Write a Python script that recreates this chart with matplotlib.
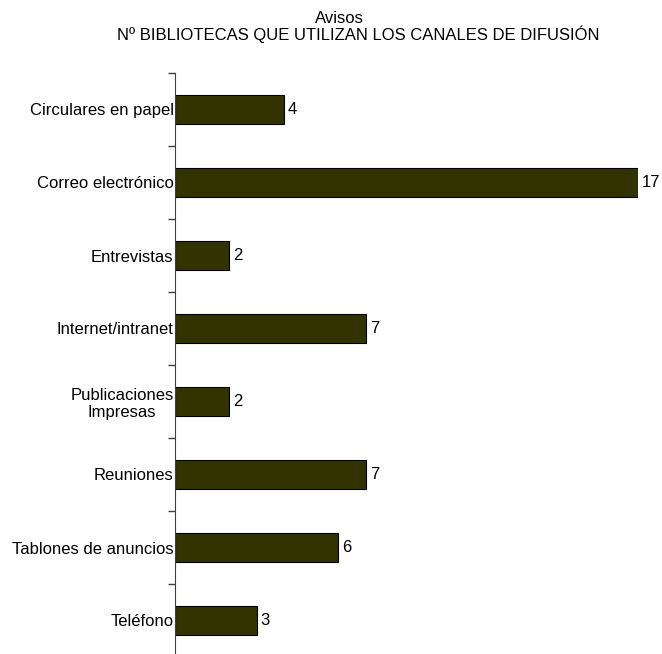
import numpy as np
import matplotlib.pyplot as plt

plt.rcParams['font.family'] = ['Liberation Sans', 'DejaVu Sans']

categorias = ['Circulares en papel', 'Correo electrónico', 'Entrevistas',
              'Internet/intranet', 'Publicaciones\nImpresas', 'Reuniones',
              'Tablones de anuncios', 'Teléfono']
valores = [4, 17, 2, 7, 2, 7, 6, 3]

fs = 12
fig = plt.figure(figsize=(6.62, 6.54), dpi=100)
ax = fig.add_axes([175/662, -3/654, (638-175)/662, 584/654])

y = np.arange(len(categorias))
ax.barh(y, valores, height=0.4, color='#333300', edgecolor='black', linewidth=0.8)
for yi, v in zip(y, valores):
    ax.text(v + 0.15, yi, str(v), va='center', ha='left', fontsize=fs)

ax.set_xlim(0, 17)
ax.set_ylim(len(categorias) - 0.5, -0.5)
ax.set_yticks(y)
ax.set_yticklabels(categorias, fontsize=fs, ha='right', multialignment='center')
ax.tick_params(axis='y', which='major', length=0, pad=1)
ax.set_yticks(np.arange(-0.5, len(categorias)), minor=True)
ax.tick_params(axis='y', which='minor', length=5, width=1, color='#404040')
ax.set_xticks([])
for s in ['top', 'right', 'bottom']:
    ax.spines[s].set_visible(False)
ax.spines['left'].set_color('#404040')

fig.text(339/662, 1 - 23/654, 'Avisos', ha='center', va='baseline', fontsize=fs)
fig.text(358/662, 1 - 40/654, 'Nº BIBLIOTECAS QUE UTILIZAN LOS CANALES DE DIFUSIÓN',
         ha='center', va='baseline', fontsize=fs)

fig.savefig('out.png', dpi=100)
